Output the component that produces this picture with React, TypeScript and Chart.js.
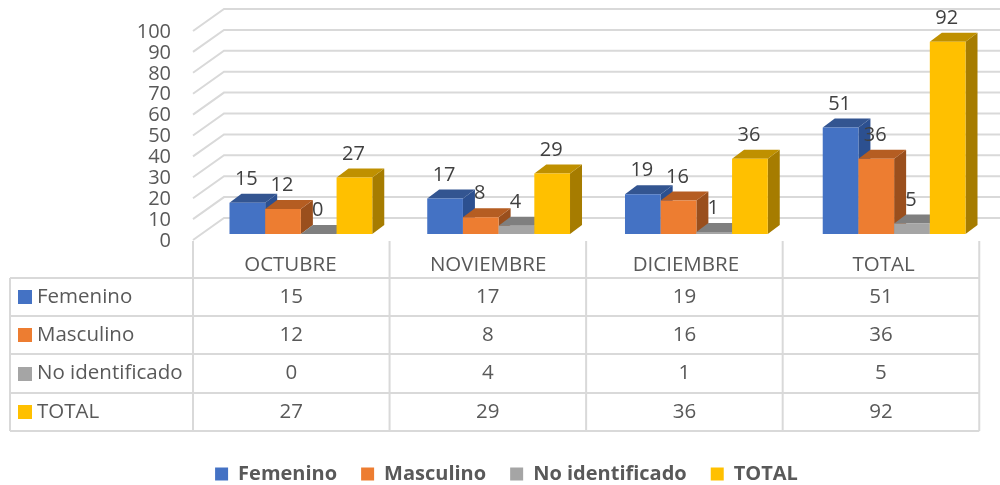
import React, { useEffect, useRef } from "react";
import { Chart, registerables } from "chart.js";

Chart.register(...registerables);

const categories = ["OCTUBRE", "NOVIEMBRE", "DICIEMBRE", "TOTAL"];
const seriesNames = ["Femenino", "Masculino", "No identificado", "TOTAL"];
const femenino = [15, 17, 19, 51];
const masculino = [12, 8, 16, 36];
const noIdentificado = [0, 4, 1, 5];
const total = [27, 29, 36, 92];
const seriesValues = [femenino, masculino, noIdentificado, total];
const frontColors = ["#4472C4", "#ED7D31", "#A5A5A5", "#FFC000"];
const topColors = ["#335591", "#B55D22", "#7F7F7F", "#BF9000"];
const sideColors = ["#2C5090", "#9A4F1D", "#6F6F6F", "#A67C00"];

const FONT = '"Open Sans", sans-serif';
const GRID = "#D9D9D9";
const TEXT = "#595959";
const LABEL = "#404040";
const BAR_DX = 12;
const BAR_DY = 9;

const depthPlugin = {
  id: "depthPlugin",
  afterLayout(chart: any) {
    const legend = chart.legend;
    if (!legend) return;
    const top = 440;
    const h = legend.bottom - legend.top;
    legend.top = top;
    legend.bottom = top + h;
    legend.left += 10;
    legend.right += 10;
  },
  beforeDatasetsDraw(chart: any) {
    const { ctx, scales } = chart;
    const area = chart.chartArea;
    const y = scales.y;
    const backX = area.left + 22;
    const frontX = area.left - 9;
    ctx.save();
    ctx.strokeStyle = GRID;
    ctx.lineWidth = 2;
    for (const t of y.ticks) {
      const p = y.getPixelForValue(t.value);
      ctx.beginPath();
      ctx.moveTo(frontX, p + 6);
      ctx.lineTo(backX, p - 16);
      ctx.lineTo(1000, p - 16);
      ctx.stroke();
    }
    ctx.restore();
  },
  beforeDatasetDraw() {
    return false;
  },
  afterDatasetsDraw(chart: any) {
    const { ctx, scales } = chart;
    const x = scales.x;
    const area = chart.chartArea;
    ctx.save();
    seriesValues.forEach((values, d) => {
      const meta = chart.getDatasetMeta(d);
      meta.data.forEach((bar: any) => {
        const half = bar.width / 2;
        const l = bar.x - half;
        const r = bar.x + half;
        const t = bar.y;
        const b = bar.base;
        ctx.fillStyle = sideColors[d];
        ctx.beginPath();
        ctx.moveTo(r, t);
        ctx.lineTo(r + BAR_DX, t - BAR_DY);
        ctx.lineTo(r + BAR_DX, b - BAR_DY);
        ctx.lineTo(r, b);
        ctx.closePath();
        ctx.fill();
        ctx.fillStyle = topColors[d];
        ctx.beginPath();
        ctx.moveTo(l, t);
        ctx.lineTo(l + BAR_DX, t - BAR_DY);
        ctx.lineTo(r + BAR_DX, t - BAR_DY);
        ctx.lineTo(r, t);
        ctx.closePath();
        ctx.fill();
        bar.draw(ctx, area);
      });
    });
    // data labels
    ctx.font = `20px ${FONT}`;
    ctx.fillStyle = LABEL;
    ctx.textAlign = "center";
    ctx.textBaseline = "middle";
    seriesValues.forEach((values, d) => {
      const meta = chart.getDatasetMeta(d);
      meta.data.forEach((bar: any, i: number) => {
        ctx.fillText(String(values[i]), bar.x - 1, bar.y - 23.5);
      });
    });
    // data table
    const step = (x.getPixelForValue(1) - x.getPixelForValue(0)) * 0.994;
    const colEdge = (i: number) => area.left - 9 + i * step;
    const rowTops = [278, 316, 354, 393, 431];
    ctx.strokeStyle = GRID;
    ctx.lineWidth = 2;
    const tableRight = colEdge(4);
    ctx.beginPath();
    rowTops.forEach((ry) => {
      ctx.moveTo(10, ry);
      ctx.lineTo(tableRight, ry);
    });
    ctx.moveTo(10, 278);
    ctx.lineTo(10, 431);
    for (let i = 0; i <= 4; i++) {
      ctx.moveTo(colEdge(i), 241);
      ctx.lineTo(colEdge(i), 431);
    }
    ctx.stroke();
    ctx.font = `20.5px ${FONT}`;
    seriesNames.forEach((name, r) => {
      const cy = (rowTops[r] + rowTops[r + 1]) / 2;
      ctx.fillStyle = frontColors[r];
      ctx.fillRect(18, Math.round(cy - 7), 14, 14);
      ctx.fillStyle = TEXT;
      ctx.textAlign = "left";
      ctx.fillText(name, 37, cy);
      ctx.textAlign = "center";
      seriesValues[r].forEach((v, c) => {
        ctx.fillText(String(v), colEdge(c) + step / 2, cy);
      });
    });
    ctx.restore();
  },
};

export default function App() {
  const ref = useRef<HTMLCanvasElement>(null);
  useEffect(() => {
    const chart = new Chart(ref.current as HTMLCanvasElement, {
      type: "bar",
      data: {
        labels: categories,
        datasets: seriesNames.map((name, i) => ({
          label: name,
          data: seriesValues[i],
          backgroundColor: frontColors[i],
          borderWidth: 0,
          categoryPercentage: 0.722,
          barPercentage: 1,
        })),
      },
      options: {
        animation: false,
        responsive: false,
        layout: { padding: { top: 25, right: 7, left: 0, bottom: 0 } },
        plugins: {
          tooltip: { enabled: false },
          legend: {
            display: true,
            position: "bottom",
            labels: {
              boxWidth: 13,
              boxHeight: 13,
              padding: 24,
              color: TEXT,
              font: { family: FONT, size: 20, weight: "bold" },
            },
          },
        },
        scales: {
          x: {
            afterFit(scale: any) {
              scale.height = 197;
              scale.paddingLeft = 0;
              scale.paddingRight = 0;
            },
            grid: { display: false, drawTicks: false },
            border: { display: false },
            ticks: {
              color: TEXT,
              font: { family: FONT, size: 20.5 },
              padding: 19,
              labelOffset: -10.5,
              autoSkip: false,
              maxRotation: 0,
            },
          },
          y: {
            min: 0,
            max: 100,
            afterFit(scale: any) {
              scale.width = 202;
              scale.paddingTop = 0;
              scale.paddingBottom = 0;
            },
            grid: { display: false, drawTicks: false },
            border: { display: false },
            ticks: {
              stepSize: 10,
              autoSkip: false,
              color: TEXT,
              font: { family: FONT, size: 20 },
              padding: 31,
              labelOffset: 7,
            },
          },
        },
      },
      plugins: [depthPlugin],
    } as any);
    return () => chart.destroy();
  }, []);
  return (
    <div style={{ position: "absolute", left: 0, top: 0, width: 1000, height: 485, background: "#fff" }}>
      <canvas ref={ref} width={1000} height={485} style={{ display: "block" }} />
    </div>
  );
}
